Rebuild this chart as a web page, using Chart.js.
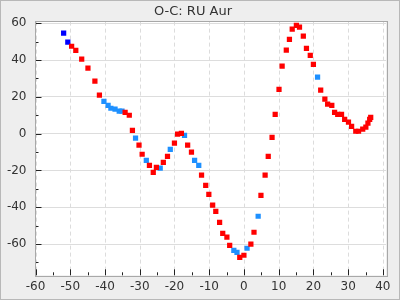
<!DOCTYPE html>
<html>
<head>
<meta charset="utf-8">
<script src="https://cdn.jsdelivr.net/npm/chart.js@4/dist/chart.umd.min.js"></script>
<style>
html,body{margin:0;padding:0;background:#eeeeee;}
#wrap{width:400px;height:300px;position:relative;}
</style>
</head>
<body>
<div id="wrap"><canvas id="c" width="400" height="300"></canvas></div>
<script>
const titleText = "O-C: RU Aur";
const xTicks = [-60, -50, -40, -30, -20, -10, 0, 10, 20, 30, 40];
const yTicks = [-60, -40, -20, 0, 20, 40, 60];

const redX = [-49.6,-48.4,-46.7,-44.9,-42.9,-41.6,-34.2,-33.0,-32.1,-30.2,-29.3,-27.2,-26.1,-25.2,-23.2,-22.0,-20.0,-19.1,-18.0,-16.2,-15.1,-12.2,-11.0,-10.1,-9.0,-8.1,-7.0,-6.1,-4.9,-4.1,-1.2,0.0,2.0,2.9,4.9,6.1,7.0,8.1,9.0,10.1,11.0,12.2,13.1,13.9,15.1,16.0,17.1,18.0,19.1,20.0,22.1,23.3,24.1,25.3,26.1,27.0,28.1,29.0,30.1,31.0,32.2,33.0,34.2,35.1,35.7,36.2,36.5];
const redY = [47.5,45.3,40.5,35.6,28.5,20.9,11.6,10.0,1.8,-6.3,-11.2,-17.2,-21.0,-18.3,-15.6,-12.3,-5.2,-0.3,0.2,-6.3,-10.1,-22.6,-28.1,-33.0,-38.9,-42.2,-48.2,-54.2,-56.3,-60.7,-67.2,-66.1,-60.1,-53.6,-33.5,-22.6,-12.3,-2.0,10.5,24.1,36.7,45.4,51.3,56.8,58.9,57.9,53.0,46.4,42.6,37.7,23.6,18.7,16.0,15.4,11.6,10.5,10.5,7.8,6.2,4.0,1.3,1.3,2.4,3.5,5.7,7.8,8.9];

const blueX = [-40.3,-39.1,-38.3,-37.1,-35.9,-35.1,-31.2,-28.1,-24.1,-21.2,-17.1,-14.2,-13.0,-2.9,-2.0,0.9,4.1,21.2];
const blueY = [17.6,15.4,13.8,13.3,12.2,12.2,-2.5,-14.5,-18.8,-8.5,-0.9,-14.5,-17.2,-63.4,-64.5,-62.3,-44.9,30.7];

const navyX = [-51.9,-50.7];
const navyY = [54.6,49.7];

function pts(xs, ys){ return xs.map((x,i)=>({x:x, y:ys[i]})); }

const FONT = "'DejaVu Sans', sans-serif";

const bgPlugin = {
  id: 'bg',
  beforeDraw(chart){
    const ctx = chart.ctx;
    ctx.save();
    ctx.fillStyle = '#eeeeee';
    ctx.fillRect(0,0,chart.width,chart.height);
    const a = chart.chartArea;
    ctx.fillStyle = '#ffffff';
    ctx.fillRect(a.left, a.top, a.right-a.left, a.bottom-a.top);
    ctx.strokeStyle = '#b8b8b8';
    ctx.lineWidth = 1;
    ctx.strokeRect(0.5,0.5,chart.width-1,chart.height-1);
    ctx.restore();
  },
  beforeDatasetsDraw(chart){
    const ctx = chart.ctx;
    const a = chart.chartArea;
    const xs = chart.scales.x, ys = chart.scales.y;
    ctx.save();
    // dashed vertical grid lines at major x ticks
    ctx.strokeStyle = '#dcdcdc';
    ctx.lineWidth = 1;
    ctx.setLineDash([4,3]);
    ctx.beginPath();
    xTicks.forEach(v => {
      const px = Math.round(xs.getPixelForValue(v)) + 0.5;
      ctx.moveTo(px, a.top);
      ctx.lineTo(px, a.bottom);
    });
    ctx.stroke();
    ctx.setLineDash([]);
    // inner ticks
    ctx.strokeStyle = '#222222';
    ctx.beginPath();
    for (let v = -60; v <= 40; v += 5) {
      const px = Math.round(xs.getPixelForValue(v)) + 0.5;
      const len = (Math.abs(v % 10) < 1e-6) ? 6 : 3;
      ctx.moveTo(px, a.bottom);
      ctx.lineTo(px, a.bottom - len);
    }
    for (let v = -70; v <= 60; v += 10) {
      const py = Math.round(ys.getPixelForValue(v)) + 0.5;
      const len = (Math.abs(v % 20) < 1e-6) ? 6 : 3;
      ctx.moveTo(a.left, py);
      ctx.lineTo(a.left + len, py);
    }
    ctx.stroke();
    ctx.restore();
  },
  afterDatasetsDraw(chart){
    const ctx = chart.ctx;
    const a = chart.chartArea;
    ctx.save();
    ctx.strokeStyle = '#a8a8a8';
    ctx.lineWidth = 1;
    ctx.strokeRect(Math.round(a.left)-0.5, Math.round(a.top)-0.5, Math.round(a.right-a.left)+1, Math.round(a.bottom-a.top)+1);
    ctx.restore();
  }
};

const common = {pointStyle:'rect', pointRadius:3.7, pointHoverRadius:3.7, borderWidth:0, showLine:false};

new Chart(document.getElementById('c'), {
  type: 'scatter',
  data: {
    datasets: [
      Object.assign({label:'red', data: pts(redX, redY), backgroundColor:'#ff0000', borderColor:'#ff0000'}, common),
      Object.assign({label:'blue', data: pts(blueX, blueY), backgroundColor:'#1e90ff', borderColor:'#1e90ff'}, common),
      Object.assign({label:'navy', data: pts(navyX, navyY), backgroundColor:'#0000ff', borderColor:'#0000ff'}, common)
    ]
  },
  options: {
    responsive: false,
    animation: false,
    devicePixelRatio: 1,
    layout: {padding: {left: 0, right: 14, top: 0, bottom: 0}},
    plugins: {
      legend: {display: false},
      tooltip: {enabled: false},
      title: {display: true, text: titleText, color: '#333333', font: {family: FONT, size: 13, weight: 'normal'}, padding: {top: 4, bottom: 2}}
    },
    scales: {
      x: {
        type: 'linear', min: -60, max: 40.9,
        afterFit(s){ s.height = 24.7; },
        afterBuildTicks(s){ s.ticks = xTicks.map(v=>({value:v})); },
        ticks: {stepSize: 10, includeBounds: false, color:'#333333', font:{family: FONT, size: 12}, padding: 4, maxRotation: 0, autoSkip: false},
        grid: {display:false, drawTicks:false},
        border: {display:false}
      },
      y: {
        type: 'linear', min: -77, max: 60.9,
        afterFit(s){ s.width = 35.5; },
        afterBuildTicks(s){ s.ticks = yTicks.map(v=>({value:v})); },
        ticks: {stepSize: 20, includeBounds: false, color:'#333333', font:{family: FONT, size: 12}, padding: 9},
        grid: {color:'#dddddd', lineWidth:1, drawTicks:false},
        border: {display:false}
      }
    }
  },
  plugins: [bgPlugin]
});
</script>
</body>
</html>
